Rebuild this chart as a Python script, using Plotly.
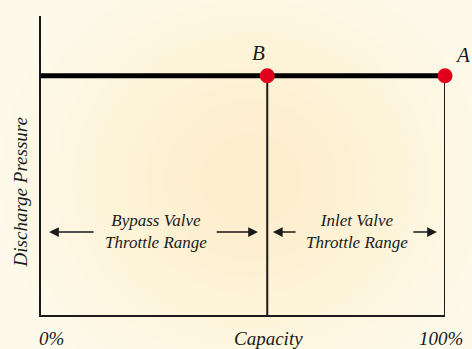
import plotly.graph_objects as go

# capacity in %, discharge pressure (relative)
point_names = ["B", "A"]
capacity = [56, 100]
pressure = [1.0, 1.0]

line_x = [0, 100]
line_y = [1.0, 1.0]

range_labels = ["Bypass Valve<br>Throttle Range", "Inlet Valve<br>Throttle Range"]
range_centers = [28.5, 78.2]
range_level = 0.35

axis_labels = ["0%", "Capacity", "100%"]
axis_label_pos = [0.027, 0.564, 0.99]

FONT = "Liberation Serif"
INK = "#1a1a1a"

fig = go.Figure()

# soft background glow
for i in range(12):
    r = 0.62 - i * 0.045
    fig.add_shape(
        type="circle", xref="paper", yref="paper", layer="below",
        x0=0.52 - r, x1=0.52 + r, y0=0.45 - r * 1.25, y1=0.45 + r * 1.25,
        fillcolor="#f8f0b8", opacity=0.05, line_width=0,
    )

# verticals at B and A
for c in capacity:
    fig.add_trace(go.Scatter(
        x=[c, c], y=[0, pressure[0]], mode="lines",
        line={"color": INK, "width": 2}, hoverinfo="skip",
    ))

# constant discharge pressure line
fig.add_trace(go.Scatter(
    x=line_x, y=line_y, mode="lines",
    line={"color": "#000000", "width": 5}, hoverinfo="skip",
))

fig.add_trace(go.Scatter(
    x=capacity, y=pressure, mode="markers",
    marker={"color": "#e0001b", "size": 15},
    cliponaxis=False, hoverinfo="skip",
))

ann = []
# point labels (paper coords so A can sit past the axis end)
for name, px, py in zip(point_names, [0.538, 1.043], [0.875, 0.868]):
    ann.append(dict(x=px, y=py, xref="paper", yref="paper", text=f"<i>{name}</i>",
                    showarrow=False, xanchor="center", yanchor="middle",
                    font={"size": 21, "color": INK, "family": FONT}))

for label, cx in zip(range_labels, range_centers):
    ann.append(dict(x=cx, y=range_level, text=f"<i>{label}</i>", showarrow=False,
                    font={"size": 17, "color": INK, "family": FONT}))

# range arrows: (tail, head)
arrows = [(13.4, 2.0), (43.1, 53.7), (63.4, 57.4), (91.8, 98.0)]
for tail, head in arrows:
    ann.append(dict(x=head, y=0.347, ax=tail, ay=0.347, axref="x", ayref="y",
                    text="", showarrow=True, arrowhead=2, arrowsize=1.3,
                    arrowwidth=1.5, arrowcolor=INK))

for text, px in zip(axis_labels, axis_label_pos):
    ann.append(dict(x=px, y=-0.08, xref="paper", yref="paper", text=f"<i>{text}</i>",
                    showarrow=False, xanchor="center", yanchor="middle",
                    font={"size": 19, "color": INK, "family": FONT}))

ann.append(dict(x=-0.052, y=0.41, xref="paper", yref="paper", textangle=-90,
                xanchor="center", yanchor="middle",
                text="<i>Discharge Pressure</i>", showarrow=False,
                font={"size": 19, "color": INK, "family": FONT}))

fig.update_layout(
    width=472, height=349,
    margin={"l": 41, "r": 27, "t": 16, "b": 34},
    paper_bgcolor="#fdfaec",
    plot_bgcolor="rgba(0,0,0,0)",
    showlegend=False,
    annotations=ann,
    xaxis={"range": [0, 100], "showgrid": False, "zeroline": False,
           "showticklabels": False, "showline": True, "linecolor": INK,
           "linewidth": 2, "fixedrange": True},
    yaxis={"range": [0, 1.25], "showgrid": False, "zeroline": False,
           "showticklabels": False, "showline": True, "linecolor": INK,
           "linewidth": 2, "fixedrange": True},
)

fig.write_html(
    "out.html",
    config={"displayModeBar": False},
    post_script="document.body.style.margin='0';document.body.style.overflow='hidden';",
)
